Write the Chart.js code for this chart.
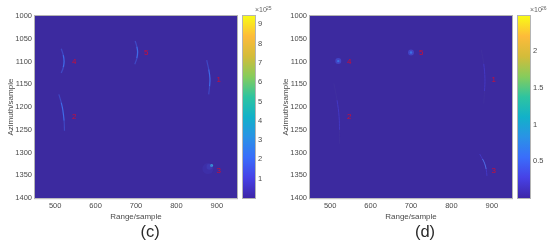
<!DOCTYPE html>
<html><head><meta charset="utf-8">
<script src="https://cdn.jsdelivr.net/npm/chart.js@4"></script>
<style>
html,body{margin:0;padding:0;background:#fff;width:550px;height:248px;overflow:hidden}
canvas{position:absolute;top:0;filter:blur(0.35px)}
</style></head><body>
<canvas id="c" width="300" height="248" style="left:0"></canvas>
<canvas id="cbc" width="40" height="248" style="left:235px"></canvas>
<canvas id="d" width="300" height="248" style="left:275px"></canvas>
<canvas id="cbd" width="40" height="248" style="left:510px"></canvas>
<script>
const xTicks=[500,600,700,800,900];
const yTicks=[1000,1050,1100,1150,1200,1250,1300,1350,1400];
const labelTexts=['1','2','3','4','5'];
const labelX=[905,547,905,547,725];
const labelY=[1141,1221,1340,1100,1081];
// panel (c) ridges
const c1=[{x:875,y:1097},{x:880,y:1117},{x:883,y:1137},{x:882,y:1155},{x:880,y:1172}];
const c2=[{x:509,y:1172},{x:515,y:1190},{x:519,y:1207},{x:522,y:1230},{x:523,y:1252}];
const c4=[{x:515,y:1072},{x:520,y:1086},{x:522,y:1100},{x:520,y:1113},{x:515,y:1125}];
const c5=[{x:698,y:1055},{x:702,y:1067},{x:704,y:1079},{x:702,y:1093},{x:697,y:1106}];
const cHaloA=[{x:878,y:1335}];
const cHaloB=[{x:882,y:1331}];
const cPeak=[{x:887,y:1328}];
// panel (d) ridges
const d1=[{x:874,y:1074},{x:880,y:1105},{x:883,y:1137},{x:882,y:1165},{x:880,y:1192}];
const d2=[{x:509,y:1148},{x:517,y:1185},{x:522,y:1221},{x:523,y:1250},{x:523,y:1280}];
const d3=[{x:870,y:1303},{x:877,y:1314},{x:882,y:1323},{x:886,y:1336},{x:888,y:1351}];
const dPeaks=[{x:520,y:1099},{x:700,y:1080}];
const parula=['#3e26a8','#4741e6','#3a6dfb','#2a92e6','#12b1c9','#2ec4a0','#86cc5c','#d3bc3a','#fdbb3a','#f9fb15'];
const cbTicksC=[1,2,3,4,5,6,7,8,9];
const cbTicksD=[0.5,1,1.5,2];
const cbMaxC=9.43, cbMaxD=2.48;

const TXT='#4a4a4a', EDGE='#b4b4b4', BG='#3c2a9f';
const font=(s,f)=>({family:'"Liberation Sans",Arial,sans-serif',size:s,...(f||{})});
Chart.defaults.animation=false;

function edge(ch){const a=ch.chartArea,g=ch.ctx;g.save();g.strokeStyle=EDGE;g.lineWidth=1;
  g.strokeRect(a.left-0.5,a.top-0.5,a.width+1,a.height+1);g.restore();}
const panelPlugin={id:'panel',
  beforeDatasetsDraw(ch){const a=ch.chartArea,g=ch.ctx;g.save();g.fillStyle=BG;g.fillRect(a.left,a.top,a.width,a.height);g.restore();edge(ch);},
  afterDatasetsDraw(ch){const g=ch.ctx,x=ch.scales.x,y=ch.scales.y;g.save();
    g.fillStyle='#cc0f35';g.font='8px "Liberation Sans"';g.textAlign='center';g.textBaseline='middle';
    labelTexts.forEach((t,i)=>g.fillText(t,x.getPixelForValue(labelX[i]),y.getPixelForValue(labelY[i])));
    g.restore();}
};
function ridge(data,color,faint,w){
  const n=data.length-1;
  return {type:'line',data,borderColor:color,borderWidth:w,tension:0.4,pointRadius:0,fill:false,
    segment:{borderColor:c=>(c.p0DataIndex===0||c.p1DataIndex===n)?faint:color}};
}
function dots(data,color,r){
  return {type:'scatter',data,backgroundColor:color,borderWidth:0,pointRadius:r};
}
function panel(id,title,datasets){
  new Chart(document.getElementById(id),{type:'scatter',data:{datasets},plugins:[panelPlugin],
    options:{responsive:false,events:[],
      layout:{padding:{left:0,top:16,right:0,bottom:0}},
      plugins:{legend:{display:false},tooltip:{enabled:false},
        title:{display:true,text:title,position:'bottom',color:'#2a2a2a',font:font(16.5,{weight:'normal'}),padding:{top:0,bottom:6}}},
      scales:{
        x:{type:'linear',min:450,max:950,afterBuildTicks:s=>{s.ticks=xTicks.map(value=>({value}))},
          afterFit:s=>{s.height=24},
          grid:{drawOnChartArea:false,drawTicks:false},border:{display:false},
          ticks:{color:TXT,font:font(7.5),padding:3,maxRotation:0,callback:v=>String(v)},
          title:{display:true,text:'Range/sample',color:TXT,font:font(8),padding:{top:0,bottom:1}}},
        y:{type:'linear',reverse:true,min:1000,max:1400,afterBuildTicks:s=>{s.ticks=yTicks.map(value=>({value}))},
          afterFit:s=>{s.width=35},
          grid:{drawOnChartArea:false,drawTicks:false},border:{display:false},
          ticks:{color:TXT,font:font(7.5),padding:3,callback:v=>String(v)},
          title:{display:true,text:'Azimuth/sample',color:TXT,font:font(8),padding:{top:6,bottom:0}}},
        spare:{type:'linear',position:'right',afterFit:s=>{s.width=63},
          ticks:{display:false},grid:{display:false},border:{display:false}}
      }}});
}
function colorbar(id,ticks,max,exp){
  new Chart(document.getElementById(id),{type:'bar',
    data:{labels:[''],datasets:[{data:[[0,max]],barPercentage:1,categoryPercentage:1,borderWidth:0,
      backgroundColor:c=>{const a=c.chart.chartArea;if(!a)return parula[0];
        const g=c.chart.ctx.createLinearGradient(0,a.bottom,0,a.top);
        parula.forEach((p,i)=>g.addColorStop(i/(parula.length-1),p));return g;}}]},
    plugins:[{id:'exp',beforeDatasetsDraw:edge,afterDraw(ch){const g=ch.ctx,a=ch.chartArea;g.save();g.fillStyle='#666';g.textBaseline='middle';
        g.font='7px "Liberation Sans"';g.fillText('×10',a.right,10.5);
        g.font='5px "Liberation Sans"';g.fillText(exp,a.right+11,8.5);g.restore();}}],
    options:{responsive:false,events:[],
      layout:{padding:{left:8,top:16,right:0,bottom:50}},
      plugins:{legend:{display:false},tooltip:{enabled:false},title:{display:false}},
      scales:{
        x:{display:false},
        y:{position:'right',min:0,max,afterBuildTicks:s=>{s.ticks=ticks.map(value=>({value}))},
          afterFit:s=>{s.width=20},
          grid:{drawOnChartArea:false,drawTicks:false},border:{display:false},
          ticks:{color:TXT,font:font(7.5),padding:3,callback:v=>String(v)}}
      }}});
}
const RB='#3f6be8', RF='#3f48c4';
panel('c','(c)',[
  dots(cHaloA,'rgba(70,70,200,0.22)',5.5),
  dots(cHaloB,'rgba(70,85,215,0.28)',3),
  ridge(c1,RB,RF,1.2),ridge(c2,RB,RF,1.2),ridge(c4,RB,RF,1.3),ridge(c5,RB,RF,1.3),
  dots(cPeak,'#2fa8d8',1.5),dots(cPeak,'#c4dc4a',0.9)
]);
panel('d','(d)',[
  ridge(d1,'#4338c4','#40309f',1),ridge(d2,'#4338c4','#40309f',1),ridge(d3,'#4f6fe8','#4338c4',1),
  dots(dPeaks,'rgba(70,90,225,0.55)',3),dots(dPeaks,'#2f8fe4',1.2)
]);
colorbar('cbc',cbTicksC,cbMaxC,'25');
colorbar('cbd',cbTicksD,cbMaxD,'26');
</script>
</body></html>
